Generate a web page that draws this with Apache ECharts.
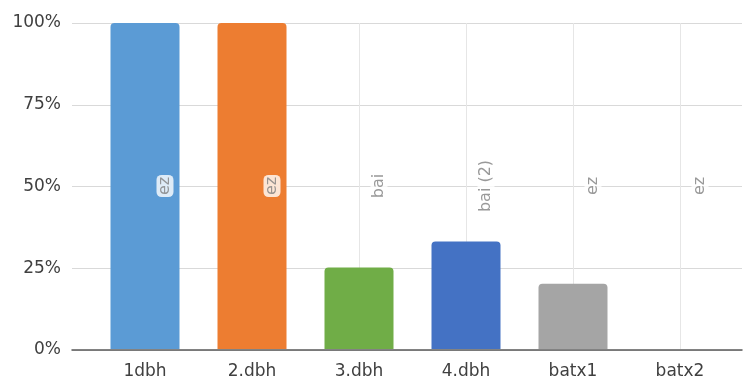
<!DOCTYPE html>
<html>
<head>
<meta charset="utf-8">
<script src="https://cdn.jsdelivr.net/npm/echarts@6/dist/echarts.min.js"></script>
<style>
  html, body { margin: 0; padding: 0; background: #fff; }
  #chart { width: 744px; height: 380px; }
</style>
</head>
<body>
<div id="chart"></div>
<script>
// Categories along the bottom axis
const categories = ['1dbh', '2.dbh', '3.dbh', '4.dbh', 'batx1', 'batx2'];
// Percentage value for each category
const values = [100, 100, 25, 33, 20, 0];
// Text written vertically across each column
const columnNotes = ['ez', 'ez', 'bai', 'bai (2)', 'ez', 'ez'];
// Level at which the column notes sit
const notePosition = [50, 50, 50, 50, 50, 50];
// Value axis ticks
const yTicks = [0, 25, 50, 75, 100];

const palette = ['#5B9BD5', '#ED7D31', '#70AD47', '#4472C4', '#A5A5A5', '#A5A5A5'];
const FONT = 'DejaVu Sans';

const chart = echarts.init(document.getElementById('chart'), null, { renderer: 'canvas' });

chart.setOption({
  animation: false,
  grid: [
    // Outer frame: value axis labels, horizontal gridlines, baseline
    { left: 72, right: 2, top: 23, bottom: 30 },
    // Inner frame: the columns, centred on the category positions
    { left: 145, right: 64, top: 23, bottom: 30 }
  ],
  xAxis: [
    {
      gridIndex: 0, type: 'value', min: 0, max: 1,
      axisLine: { show: true, onZero: false, lineStyle: { color: '#595959', width: 1.5 } },
      axisTick: { show: false }, axisLabel: { show: false }, splitLine: { show: false }
    },
    {
      gridIndex: 1, type: 'category', data: categories, boundaryGap: false,
      axisLine: { show: false }, axisTick: { show: false },
      axisLabel: { color: '#404040', fontFamily: FONT, fontSize: 17, margin: 14 },
      splitLine: { show: true, lineStyle: { color: '#E6E6E6', width: 1 } }
    }
  ],
  yAxis: [
    {
      gridIndex: 0, type: 'value', min: yTicks[0], max: yTicks[yTicks.length - 1], interval: 25,
      axisLine: { show: false }, axisTick: { show: false },
      axisLabel: { color: '#404040', fontFamily: FONT, fontSize: 17, margin: 11,
        formatter: v => v + '%' },
      splitLine: { show: true, lineStyle: { color: '#D9D9D9', width: 1.2 } }
    },
    {
      gridIndex: 1, type: 'value', min: 0, max: 100, show: false,
      splitLine: { show: false }
    }
  ],
  series: [
    {
      type: 'bar',
      xAxisIndex: 1, yAxisIndex: 1,
      barWidth: 69,
      clip: false,
      data: values.map((v, i) => ({
        value: v,
        itemStyle: { color: palette[i], borderRadius: [4, 4, 0, 0] }
      })),
      z: 2
    },
    {
      type: 'scatter',
      xAxisIndex: 1, yAxisIndex: 1,
      symbolSize: 0,
      clip: false,
      data: notePosition,
      z: 3,
      label: {
        show: true,
        position: 'inside',
        rotate: 90,
        offset: [0, 20],
        formatter: p => columnNotes[p.dataIndex],
        color: '#808080',
        fontFamily: FONT,
        fontSize: 16,
        backgroundColor: '#FFFFFF',
        borderRadius: 5,
        padding: [0, 2, 1, 2]
      }
    }
  ]
});
</script>
</body>
</html>
